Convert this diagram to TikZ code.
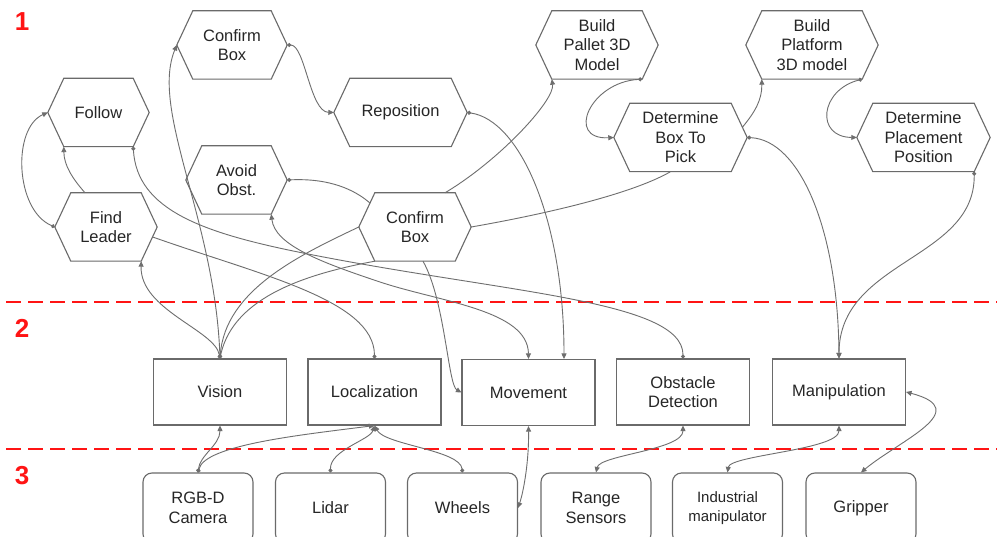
\documentclass[tikz,border=0pt]{standalone}
\usepackage{fontspec}
\setmainfont{Liberation Sans}
\usetikzlibrary{arrows.meta,calc}

\definecolor{edge}{HTML}{6E6E6E}
\definecolor{frame}{HTML}{6A6A6A}
\definecolor{ink}{HTML}{262626}
\definecolor{layerred}{HTML}{FF1414}

\tikzset{
  boxline/.style={draw=frame, line width=1.1pt},
  label text/.style={font=\fontsize{16.5}{19.5}\selectfont, text=ink, align=center, inner sep=0pt},
  hexnode/.style={label text, minimum height=68pt},
  layerbox/.style={label text, boxline, minimum width=133pt, minimum height=66pt},
  sensorbox/.style={label text, boxline, rounded corners=9pt, minimum width=110pt, minimum height=70pt},
  layernum/.style={font=\fontsize{26}{26}\selectfont\bfseries, text=layerred, inner sep=0pt},
  layerline/.style={draw=layerred, line width=2pt, dash pattern=on 15pt off 7pt},
  link/.style={draw=edge, line width=0.9pt},
  pinhead/.style={arrows={Circle[length=4pt]-Triangle[length=5.5pt,width=5pt]}},
  pinpin/.style={arrows={Circle[length=4pt]-Circle[length=4pt]}},
  pinonly/.style={arrows={Circle[length=4pt]-}},
  headhead/.style={arrows={Triangle[length=5.5pt,width=5pt]-Triangle[length=5.5pt,width=5pt]}},
  tohead/.style={arrows={-Triangle[length=5.5pt,width=5pt]}},
  topin/.style={arrows={-Circle[length=4pt]}},
}

% hexagonal task node: name, x, y, width, text
\newcommand\taskhex[5]{%
  \node[hexnode, minimum width=#4pt] (#1) at (#2,#3) {#5};
  \coordinate (#1-nw) at ([xshift=16pt]#1.north west);
  \coordinate (#1-ne) at ([xshift=-16pt]#1.north east);
  \coordinate (#1-se) at ([xshift=-16pt]#1.south east);
  \coordinate (#1-sw) at ([xshift=16pt]#1.south west);
  \draw[boxline] (#1-nw) -- (#1-ne) -- (#1.east) -- (#1-se) -- (#1-sw) -- (#1.west) -- cycle;
}

\begin{document}
\begin{tikzpicture}[x=1pt,y=-1pt]
\useasboundingbox (0,0) rectangle (997,537);
\fill[white] (0,0) rectangle (997,537);
\clip (0,0) rectangle (997,537);

% layer separators and numbers
\draw[layerline] (6,302) -- (997,302);
\draw[layerline] (6,449) -- (997,449);
\node[layernum] (num1) at (22,22) {1};
\node[layernum] (num2) at (22,328.5) {2};
\node[layernum] (num3) at (22,476) {3};

% layer 1: tasks
\taskhex{cbTop}{232}{45}{110}{Confirm\\Box}
\taskhex{follow}{98.5}{112.5}{101}{Follow}
\taskhex{findLeader}{106}{227}{102}{Find\\Leader}
\taskhex{avoid}{236.5}{180}{101}{Avoid\\Obst.}
\taskhex{reposition}{400.5}{112.5}{133}{Reposition}
\taskhex{pallet}{597}{45}{122}{Build\\Pallet 3D\\Model}
\taskhex{cbMid}{415}{227}{112}{Confirm\\Box}
\taskhex{pick}{680.5}{137.5}{133}{Determine\\Box To\\Pick}
\taskhex{platform}{812}{45}{132}{Build\\Platform\\3D model}
\taskhex{placement}{923.5}{137.5}{133}{Determine\\Placement\\Position}

% layer 2: capabilities
\node[layerbox] (vision) at (220,392) {Vision};
\node[layerbox] (localization) at (374.5,392) {Localization};
\node[layerbox] (movement) at (528.5,392.5) {Movement};
\node[layerbox] (obstacle) at (683,392) {Obstacle\\Detection};
\node[layerbox] (manipulation) at (839,392) {Manipulation};

% layer 3: hardware
\node[sensorbox] (rgbd) at (198,508) {RGB-D\\Camera};
\node[sensorbox] (lidar) at (330.5,508) {Lidar};
\node[sensorbox] (wheels) at (462.5,508) {Wheels};
\node[sensorbox] (range) at (596,508) {Range\\Sensors};
\node[sensorbox, font=\fontsize{15}{19}\selectfont] (industrial) at (727.5,508) {Industrial\\manipulator};
\node[sensorbox] (gripper) at (861,508) {Gripper};

% links inside layer 1 and down to layer 2
\draw[link,pinhead] (findLeader.west) .. controls (15,210) and (12,128) .. (follow.west);
\draw[link,tohead] ($(findLeader.north)+(-21,0)$) .. controls (72,178) and (64,165) .. (follow-sw);
\draw[link,pinpin] (follow-se) .. controls (137,210) and (203,233) .. (303,253)
  .. controls (503,293) and (683,300) .. (obstacle.north);
\draw[link,topin] ($(findLeader.east)+(-4.5,10)$) .. controls (260,275) and (374,300) .. (localization.north);
\draw[link,pinhead] (vision.north) .. controls (215,330) and (140,310) .. (findLeader-se);
\draw[link,pinhead] (vision.north) .. controls (215,220) and (150,110) .. (cbTop.west);
\draw[link,pinonly] (vision.north) .. controls (225,290) and (300,255) .. (cbMid.west);
\draw[link] (vision.north) .. controls (230,300) and (300,275) .. (cbMid-sw);
\draw[link,pinonly] (avoid.east) .. controls (330,178) and (355,190) .. ($(cbMid.west)!0.7!(cbMid-nw)$);
\draw[link,headhead] (avoid-se) .. controls (275,245) and (320,262) .. (380,282)
  .. controls (440,302) and (528,310) .. (movement.north);
\draw[link,pinhead] (cbTop.east) .. controls (305,45) and (310,112) .. (reposition.west);
\draw[link,pinhead] (reposition.east) .. controls (520,120) and (564,220) .. ($(movement.north)+(35.5,0)$);
\draw[link,tohead] ($(cbMid.south)+(8,0)$) .. controls (445,300) and (448,385) .. (movement.west);
\draw[link,tohead] ($(cbMid.north)+(30,0)$) .. controls (500,160) and (555,100) .. (pallet-sw);
\draw[link] (cbMid.east) .. controls (540,215) and (630,195) .. ($(pick.south)+(-10,0)$);
\draw[link,pinhead] (pallet-se) .. controls (590,82) and (565,140) .. (pick.west);
\draw[link,tohead] ($(pick.east)!0.3!(pick-ne)$) .. controls (755,112) and (762,100) .. (platform-sw);
\draw[link,pinhead] (pick.east) .. controls (800,140) and (838,230) .. (manipulation.north);
\draw[link,pinhead] (platform-se) .. controls (820,90) and (815,137) .. (placement.west);
\draw[link,pinhead] (placement-se) .. controls (975,260) and (839,260) .. (manipulation.north);

% links between layer 2 and layer 3
\draw[link,pinhead] (rgbd.north) .. controls (200,455) and (220,445) .. (vision.south);
\draw[link,pinhead] (rgbd.north) .. controls (205,445) and (300,435) .. (localization.south);
\draw[link,pinhead] (lidar.north) .. controls (330,450) and (370,440) .. (localization.south);
\draw[link,pinhead] (wheels.north) .. controls (460,450) and (385,445) .. (localization.south);
\draw[link,headhead] (movement.south) .. controls (529,460) and (524,490) .. (wheels.east);
\draw[link,headhead] (range.north) .. controls (600,455) and (683,450) .. (obstacle.south);
\draw[link,headhead] (industrial.north) .. controls (730,455) and (839,450) .. (manipulation.south);
\draw[link,headhead] (manipulation.east) .. controls (975,410) and (900,440) .. (gripper.north);
\end{tikzpicture}
\end{document}
